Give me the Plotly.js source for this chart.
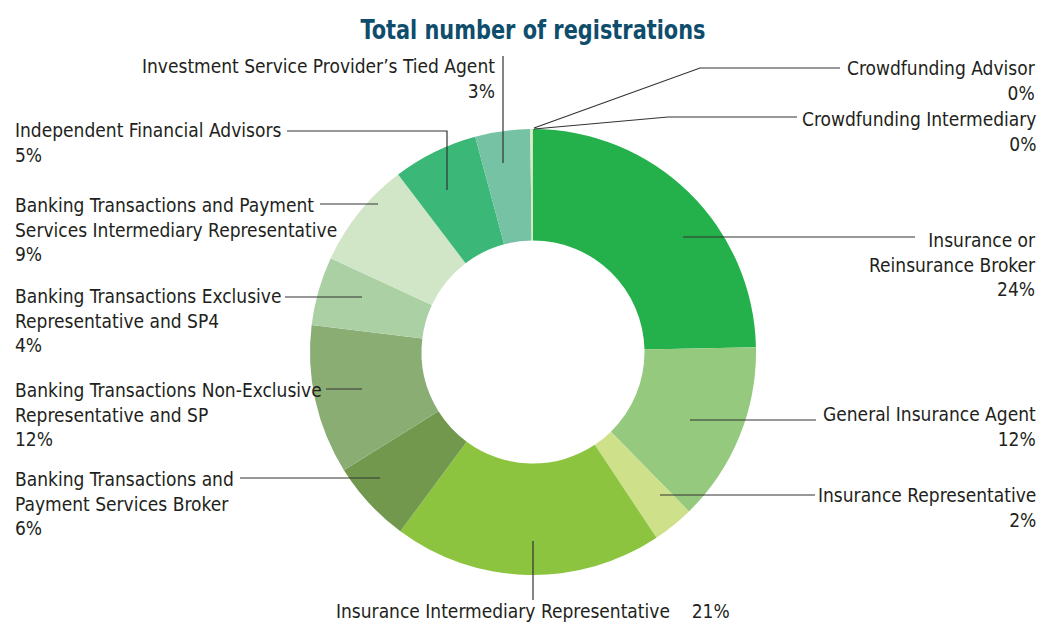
<!DOCTYPE html>
<html>
<head>
<meta charset="utf-8">
<script src="https://cdn.plot.ly/plotly-3.0.1.min.js"></script>
<style>html,body{margin:0;padding:0;background:#fff;}#chart{width:1041px;height:624px;}</style>
</head>
<body>
<div id="chart"></div>
<script>
// ---- data ----
const categories = [
  "Insurance or Reinsurance Broker",
  "General Insurance Agent",
  "Insurance Representative",
  "Insurance Intermediary Representative",
  "Banking Transactions and Payment Services Broker",
  "Banking Transactions Non-Exclusive Representative and SP",
  "Banking Transactions Exclusive Representative and SP4",
  "Banking Transactions and Payment Services Intermediary Representative",
  "Independent Financial Advisors",
  "Investment Service Provider’s Tied Agent",
  "Crowdfunding Intermediary",
  "Crowdfunding Advisor"
];
// slice shares as drawn (percent)
const values = [24.8, 13.1, 3.0, 19.6, 6.0, 10.9, 5.0, 7.8, 6.2, 4.0, 0.1, 0.1];
// printed percentage labels
const percentLabels = ["24%", "12%", "2%", "21%", "6%", "12%", "4%", "9%", "5%", "3%", "0%", "0%"];
// label text lines as printed
const labelLines = [
  ["Insurance or", "Reinsurance Broker"],
  ["General Insurance Agent"],
  ["Insurance Representative"],
  ["Insurance Intermediary Representative"],
  ["Banking Transactions and", "Payment Services Broker"],
  ["Banking Transactions Non-Exclusive", "Representative and SP"],
  ["Banking Transactions Exclusive", "Representative and SP4"],
  ["Banking Transactions and Payment", "Services Intermediary Representative"],
  ["Independent Financial Advisors"],
  ["Investment Service Provider’s Tied Agent"],
  ["Crowdfunding Intermediary"],
  ["Crowdfunding Advisor"]
];
const colors = ["#24b14c", "#94c97e", "#cee08a", "#8cc43f", "#71984c", "#8aad74",
                "#abd0a4", "#d0e6c6", "#3bb878", "#75c2a4", "#d8e9c0", "#cfe6b8"];

// ---- layout (pixel positions of labels and leader lines) ----
const W = 1041, H = 624;
const px = x => x / W, py = y => 1 - y / H;
const labelPos = [
  {x: 1038, y: 264, anchor: "right"},
  {x: 1038, y: 426, anchor: "right"},
  {x: 1038, y: 507, anchor: "right"},
  {x: 533, y: 611, anchor: "center", inline: true},
  {x: 13, y: 503, anchor: "left"},
  {x: 13, y: 414, anchor: "left"},
  {x: 13, y: 321, anchor: "left"},
  {x: 13, y: 229, anchor: "left"},
  {x: 13, y: 143, anchor: "left"},
  {x: 497, y: 78, anchor: "right"},
  {x: 1038, y: 131, anchor: "right"},
  {x: 1038, y: 81, anchor: "right"}
];
const leaderPaths = [
  [[683,237],[915,237]],
  [[690,420],[816,420]],
  [[660,495],[815,495]],
  [[533,541],[533,600]],
  [[240,478],[380,478]],
  [[326,389],[362,389]],
  [[285,297],[362,297]],
  [[320,204],[378,204]],
  [[287,131],[447,131],[447,190]],
  [[503,56],[503,163]],
  [[797,117],[668,117],[534,129]],
  [[840,68],[700,68],[534,128]]
];

const FONT = "'Liberation Sans Narrow', 'DejaVu Sans Condensed', 'Arial Narrow', sans-serif";

const annotations = categories.map((c, i) => {
  const p = labelPos[i];
  let text;
  if (p.inline) text = labelLines[i].join(" ") + "&nbsp;&nbsp;&nbsp;&nbsp;" + percentLabels[i];
  else text = labelLines[i].concat([percentLabels[i]]).join("<br>");
  return {
    text: text, x: px(p.x), y: py(p.y), xref: "paper", yref: "paper",
    xanchor: p.anchor, yanchor: "middle", align: p.anchor === "center" ? "center" : p.anchor,
    showarrow: false, font: {family: FONT, size: 19, color: "#231f20"}
  };
});

const shapes = leaderPaths.map(pts => ({
  type: "path", xref: "paper", yref: "paper",
  path: pts.map((q, k) => (k ? "L" : "M") + px(q[0]) + "," + py(q[1])).join(" "),
  line: {color: "#333333", width: 1.2}
}));

const trace = {
  type: "pie",
  labels: categories,
  values: values,
  sort: false,
  direction: "clockwise",
  rotation: 0,
  hole: 0.5,
  textinfo: "none",
  hoverinfo: "label+percent",
  marker: {colors: colors, line: {width: 0}},
  domain: {x: [px(310), px(756)], y: [py(575), py(129)]},
  showlegend: false
};

const layout = {
  width: W, height: H,
  margin: {l: 0, r: 0, t: 0, b: 0},
  paper_bgcolor: "#ffffff",
  showlegend: false,
  title: {text: "<b>Total number of registrations</b>", x: 0.512, xanchor: "center", y: py(30), yanchor: "middle",
          font: {family: FONT, size: 27, color: "#0e4d6b"}},
  annotations: annotations,
  shapes: shapes
};

Plotly.newPlot("chart", [trace], layout, {displayModeBar: false, staticPlot: true}).then(() => {
  // narrow the title horizontally to mimic the condensed typeface
  const t = document.querySelector(".gtitle");
  if (t) {
    const cx = 0.512 * W;
    const prev = t.getAttribute("transform") || "";
    t.setAttribute("transform", `translate(${cx},0) scale(0.86,1) translate(${-cx},0) ` + prev);
  }
});
</script>
</body>
</html>
